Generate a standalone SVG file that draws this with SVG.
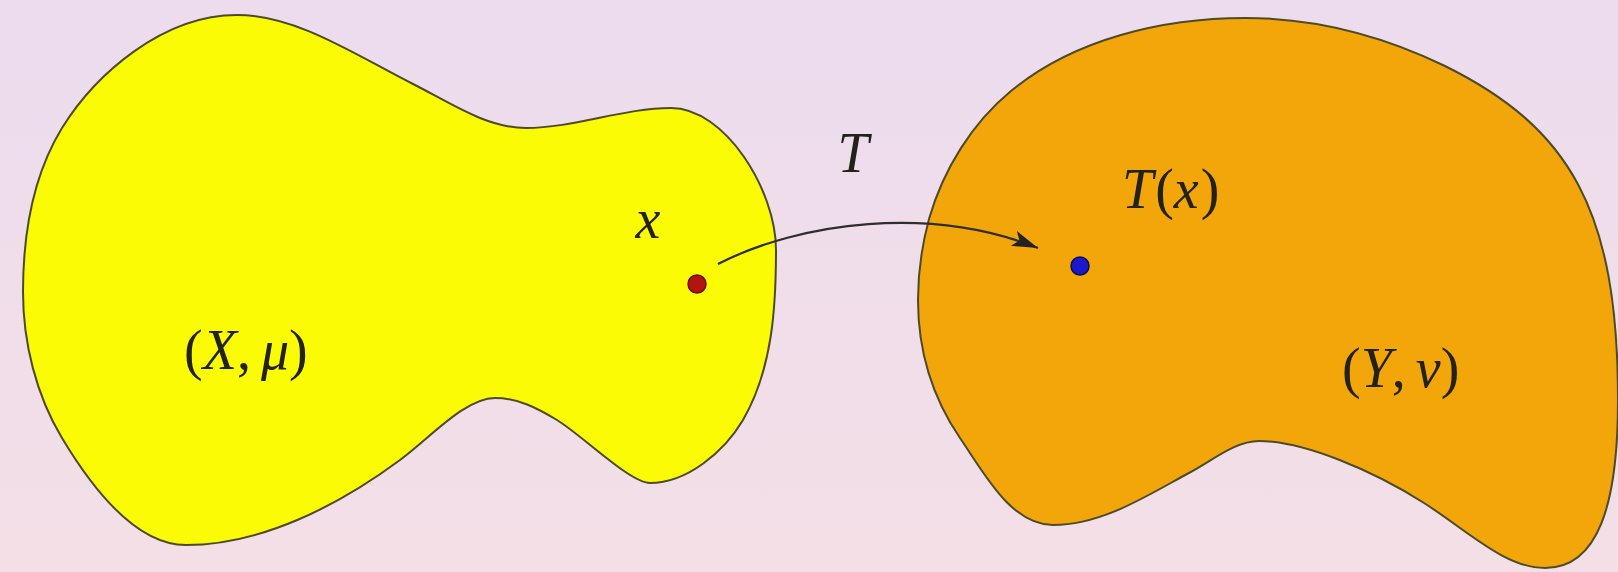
<svg xmlns="http://www.w3.org/2000/svg" width="1618" height="572" viewBox="0 0 1618 572">
<defs>
<linearGradient id="bg" x1="0" y1="0" x2="0" y2="1">
<stop offset="0" stop-color="#ecdcee"/>
<stop offset="1" stop-color="#f4dfe6"/>
</linearGradient>
<marker id="arr" markerUnits="userSpaceOnUse" markerWidth="30" markerHeight="20" refX="26" refY="8" orient="auto">
<path d="M0,0 L26,8 L0,16 L6,8 Z" fill="#222"/>
</marker>
<style>
.blob{stroke:#4d4a2a;stroke-width:2}
.lbl{font-family:"Liberation Serif","DejaVu Serif",serif;font-size:56px;fill:#222218}
.it{font-style:italic}
.conn{fill:none;stroke:#2e2e2e;stroke-width:2.2}
</style>
</defs>
<rect x="0" y="0" width="1618" height="572" fill="url(#bg)"/>
<g id="space-X">
<path class="blob" fill="#fbfb06" d="M237,15 C297,15 357,56 413,84 C449,102 486,128 526,128 C574,128 623,108 671,108 C725,108 776,190 776,250 C776,305 773,368 743,420 C724,452 687,483 650,483 C630,483 583,436 557,420 C537,408 518,398 495,398 C465,398 430,438 400,460 C338,506 261,545 186,545 C133,545 89,483 62,438 C36,395 23,342 23,292 C23,235 32,177 62,128 C95,75 162,15 237,15 Z"/>
<text class="lbl" x="184" y="369">(<tspan class="it">X</tspan>,<tspan class="it" dx="10">μ</tspan>)</text>
</g>
<g id="space-Y">
<path class="blob" fill="#f2a60a" d="M1245,18 C1163,18 1074,39 1011,91 C972,123 943,170 929,219 C922,245 918,273 918,300 C918,349 932,397 960,438 C984,473 1011,525 1053,525 C1101,525 1145,497 1187,474 C1212,461 1235,441 1259,441 C1304,441 1374,471 1424,503 C1468,531 1505,568 1545,568 C1598,568 1618,505 1618,400 C1618,210 1570,128 1445,66 C1383,36 1314,18 1245,18 Z"/>
<text class="lbl" x="1342" y="387">(<tspan class="it">Y</tspan>,<tspan class="it" dx="10">ν</tspan>)</text>
</g>
<g id="point-x">
<circle cx="697" cy="284" r="9" fill="#b3140f" stroke="#6b0d0a" stroke-width="1.5"/>
<text class="lbl it" x="648" y="238" text-anchor="middle">x</text>
</g>
<g id="point-Tx">
<circle cx="1080" cy="266" r="9" fill="#1a1acc" stroke="#0a0a60" stroke-width="1.5"/>
<text class="lbl" x="1122" y="208"><tspan class="it">T</tspan><tspan dx="2">(</tspan><tspan class="it">x</tspan><tspan dx="2">)</tspan></text>
</g>
<g id="connectors">
<path class="conn" d="M718,264 C800,222 930,205 1038,248" marker-end="url(#arr)"/>
<text class="lbl it" x="853" y="172" text-anchor="middle">T</text>
</g>
</svg>
